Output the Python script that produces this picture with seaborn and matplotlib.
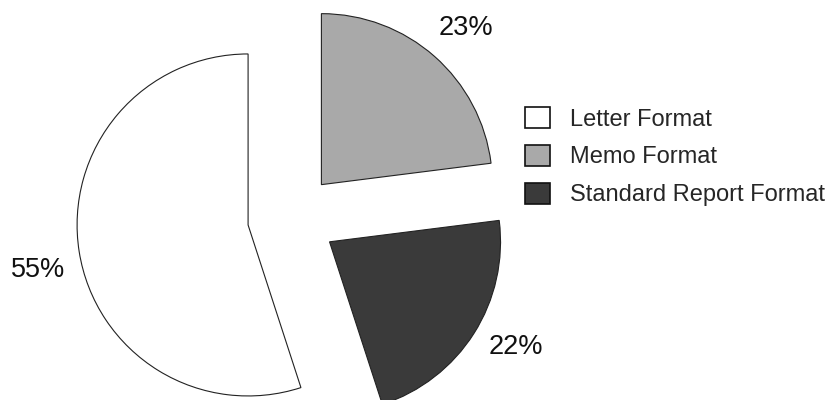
import matplotlib
matplotlib.use("Agg")
import matplotlib.pyplot as plt
import matplotlib.transforms as mtransforms
import seaborn as sns

sns.set_style("white")
plt.rcParams["font.family"] = ["Liberation Sans", "DejaVu Sans"]

categories = ["Letter Format", "Memo Format", "Standard Report Format"]
shares = [55, 23, 22]
colors = ["#ffffff", "#a9a9a9", "#3a3a3a"]

# clockwise from 12 o'clock: Memo, Standard Report, then Letter
draw_order = [1, 2, 0]

fig = plt.figure(figsize=(8.31, 4.0), dpi=100)
ax = fig.add_axes([0, 0, 1, 1])

wedges, texts, autotexts = ax.pie(
    [shares[i] for i in draw_order],
    colors=[colors[i] for i in draw_order],
    explode=[0.26] * len(draw_order),
    startangle=90,
    counterclock=False,
    autopct="%.0f%%",
    pctdistance=1.25,
    radius=1.0,
    wedgeprops=dict(edgecolor="#222222", linewidth=0.8),
    textprops=dict(fontsize=19.5, color="#111111"),
)
ax.set_xlim(-292 / 171, (831 - 292) / 171)
ax.set_ylim(-(400 - 218) / 171, 218 / 171)
ax.set_aspect("auto")
ax.axis("off")

# small nudges (in points) for the percentage labels: Memo, Standard Report, Letter
nudges = [(2, -3), (4, 7), (1, -8)]
for t, (dx, dy) in zip(autotexts, nudges):
    t.set_transform(t.get_transform() + mtransforms.ScaledTranslation(dx / 72, dy / 72, fig.dpi_scale_trans))

handles = [wedges[draw_order.index(i)] for i in range(len(categories))]
leg = ax.legend(
    handles,
    categories,
    loc="upper left",
    bbox_to_anchor=(525 / 831, 1 - 107 / 400),
    borderaxespad=0,
    borderpad=0,
    frameon=False,
    fontsize=17,
    handlelength=1.05,
    handleheight=1.0,
    handletextpad=0.85,
    labelspacing=0.6,
)
for h in leg.legend_handles:
    h.set_edgecolor("#111111")
    h.set_linewidth(1.2)

fig.savefig("out.png", dpi=100)
